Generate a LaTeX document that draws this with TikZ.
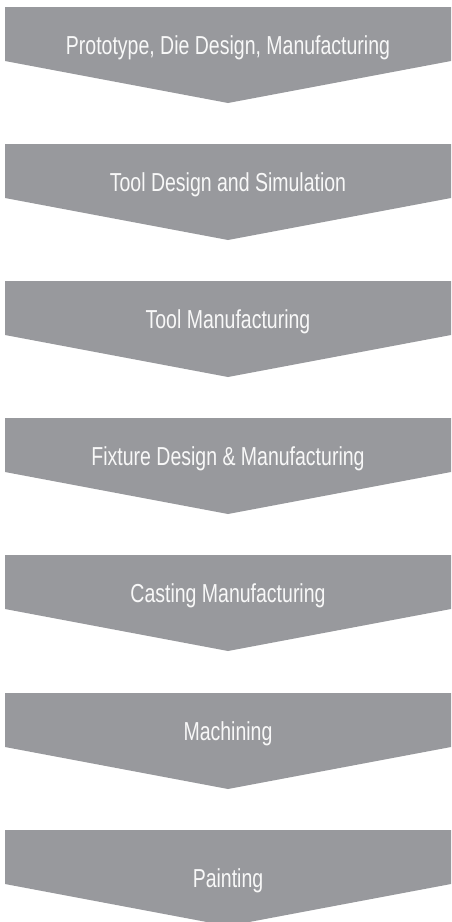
\documentclass[tikz,border=0pt]{standalone}
\usepackage{fontspec}
\setmainfont{Liberation Sans}[FakeStretch=0.75]
\definecolor{stepgray}{RGB}{152,153,157}
\definecolor{steptext}{RGB}{248,248,248}
\begin{document}
\begin{tikzpicture}[x=1pt,y=-1pt,
  chevron/.style={fill=stepgray,draw=none},
  steplabel/.style={anchor=base,text=steptext,font=\fontsize{26}{30}\selectfont,inner sep=0pt}]
\useasboundingbox (0,0) rectangle (451,922);
\clip (0,0) rectangle (451,922);
% one chevron per process step: flat top, straight sides, V-shaped bottom
\foreach \t/\name/\off/\label in {
   7/s1/47/{Prototype, Die Design, Manufacturing},
 144/s2/47/{Tool Design and Simulation},
 281/s3/47/{Tool Manufacturing},
 418/s4/47/{Fixture Design \& Manufacturing},
 555/s5/47/{Casting Manufacturing},
 693/s6/47/{Machining},
 830/s7/57/{Painting}}{
  \fill[chevron] (5,\t) -- (451,\t) -- (451,\t+54) -- (228,\t+96) -- (5,\t+54) -- cycle;
  \node[steplabel] (\name) at (228,\t+\off) {\label};
}
\end{tikzpicture}
\end{document}
